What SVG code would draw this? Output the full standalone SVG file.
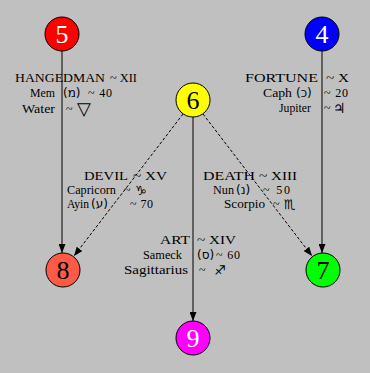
<svg xmlns="http://www.w3.org/2000/svg" width="370" height="373" viewBox="0 0 370 373">
<style>
.bg{fill:#c0c0c0}
.node circle{stroke:#000;stroke-width:1}
.num{font-family:"Liberation Serif","DejaVu Serif",serif;font-size:26px;text-anchor:middle}
.lbl{font-family:"Liberation Serif","DejaVu Serif",serif;font-size:12px;fill:#000}
.sym{font-family:"DejaVu Sans",sans-serif;font-size:12px;fill:#000}
.e{stroke:#000;stroke-width:1;fill:none}
.d{stroke-dasharray:3,2}
</style>
<defs>
<marker id="arr" markerWidth="10" markerHeight="7" refX="9" refY="3.5" orient="auto" markerUnits="userSpaceOnUse">
<polygon points="0,0 9,3.5 0,7" fill="#000"/>
</marker>
</defs>
<rect class="bg" width="370" height="373"/>
<g id="edges">
<line class="e" x1="62" y1="51" x2="62" y2="253" marker-end="url(#arr)"/>
<line class="e" x1="322" y1="51" x2="322" y2="253" marker-end="url(#arr)"/>
<line class="e" x1="193" y1="117" x2="193" y2="321" marker-end="url(#arr)"/>
<line class="e d" x1="183" y1="114" x2="74" y2="256" marker-end="url(#arr)"/>
<line class="e d" x1="203" y1="114" x2="312" y2="256" marker-end="url(#arr)"/>
</g>
<g id="labels">
<g id="hangedman">
<text class="lbl" x="15" y="82" textLength="90" lengthAdjust="spacingAndGlyphs">HANGEDMAN</text>
<text class="lbl" x="110" y="82" textLength="27" lengthAdjust="spacingAndGlyphs">~ XII</text>
<text class="lbl" x="30" y="97" textLength="25" lengthAdjust="spacingAndGlyphs">Mem</text>
<text class="sym" x="63" y="97">(מ)</text>
<text class="lbl" x="88" y="97" textLength="24">~ 40</text>
<text class="lbl" x="22" y="113" textLength="33" lengthAdjust="spacingAndGlyphs">Water</text>
<text class="lbl" x="66" y="113">~</text>
<text class="sym" x="77" y="115" style="font-size:18px">▽</text>
</g>
<g id="fortune">
<text class="lbl" x="245" y="82" textLength="73" lengthAdjust="spacingAndGlyphs">FORTUNE</text>
<text class="lbl" x="326" y="82" textLength="23" lengthAdjust="spacingAndGlyphs">~ X</text>
<text class="lbl" x="263" y="97" textLength="29" lengthAdjust="spacingAndGlyphs">Caph</text>
<text class="sym" x="296" y="97">(כ)</text>
<text class="lbl" x="324" y="97" textLength="24">~ 20</text>
<text class="lbl" x="279" y="112" textLength="32" lengthAdjust="spacingAndGlyphs">Jupiter</text>
<text class="lbl" x="324" y="112">~</text>
<text class="sym" x="333" y="113" style="font-size:14px">♃</text>
</g>
<g id="devil">
<text class="lbl" x="84" y="180" textLength="44" lengthAdjust="spacingAndGlyphs">DEVIL</text>
<text class="lbl" x="133" y="180" textLength="34" lengthAdjust="spacingAndGlyphs">~ XV</text>
<text class="lbl" x="67" y="194" textLength="49" lengthAdjust="spacingAndGlyphs">Capricorn</text>
<text class="lbl" x="124" y="194">~</text>
<text class="sym" x="135" y="195" style="font-size:13px">♑</text>
<text class="lbl" x="67" y="208" textLength="22" lengthAdjust="spacingAndGlyphs">Ayin</text>
<text class="sym" x="91" y="208">(ע)</text>
<text class="lbl" x="130" y="208" textLength="23">~ 70</text>
</g>
<g id="death">
<text class="lbl" x="203" y="180" textLength="52" lengthAdjust="spacingAndGlyphs">DEATH</text>
<text class="lbl" x="259" y="180" textLength="38" lengthAdjust="spacingAndGlyphs">~ XIII</text>
<text class="lbl" x="213" y="194" textLength="21" lengthAdjust="spacingAndGlyphs">Nun</text>
<text class="sym" x="236" y="194">(נ)</text>
<text class="lbl" x="263" y="194" textLength="27">~ 50</text>
<text class="lbl" x="224" y="208" textLength="41" lengthAdjust="spacingAndGlyphs">Scorpio</text>
<text class="lbl" x="273" y="208">~</text>
<text class="sym" x="284" y="209" style="font-size:13px">♏</text>
</g>
<g id="art">
<text class="lbl" x="160" y="244" textLength="30" lengthAdjust="spacingAndGlyphs">ART</text>
<text class="lbl" x="197" y="244" textLength="39" lengthAdjust="spacingAndGlyphs">~ XIV</text>
<text class="lbl" x="143" y="259" textLength="39" lengthAdjust="spacingAndGlyphs">Sameck</text>
<text class="sym" x="197" y="259">(ס)</text>
<text class="lbl" x="216" y="259" textLength="24">~ 60</text>
<text class="lbl" x="124" y="274" textLength="64" lengthAdjust="spacingAndGlyphs">Sagittarius</text>
<text class="lbl" x="199" y="274">~</text>
<text class="sym" x="214" y="275" style="font-size:13px">♐</text>
</g>
</g>
<g id="n5" class="node"><circle cx="62" cy="34" r="17" fill="#ff0000"/><text class="num" x="62" y="43" fill="#fff">5</text></g>
<g id="n4" class="node"><circle cx="322" cy="34" r="17" fill="#0000ff"/><text class="num" x="322" y="43" fill="#fff">4</text></g>
<g id="n6" class="node"><circle cx="193" cy="100" r="17" fill="#ffff00"/><text class="num" x="193" y="109" fill="#000">6</text></g>
<g id="n8" class="node"><circle cx="63" cy="270" r="17" fill="#ff5a46"/><text class="num" x="63" y="279" fill="#000">8</text></g>
<g id="n7" class="node"><circle cx="323" cy="270" r="17" fill="#00ff00"/><text class="num" x="323" y="279" fill="#000">7</text></g>
<g id="n9" class="node"><circle cx="193" cy="338" r="17" fill="#ff00ff"/><text class="num" x="193" y="347" fill="#fff">9</text></g>
</svg>
